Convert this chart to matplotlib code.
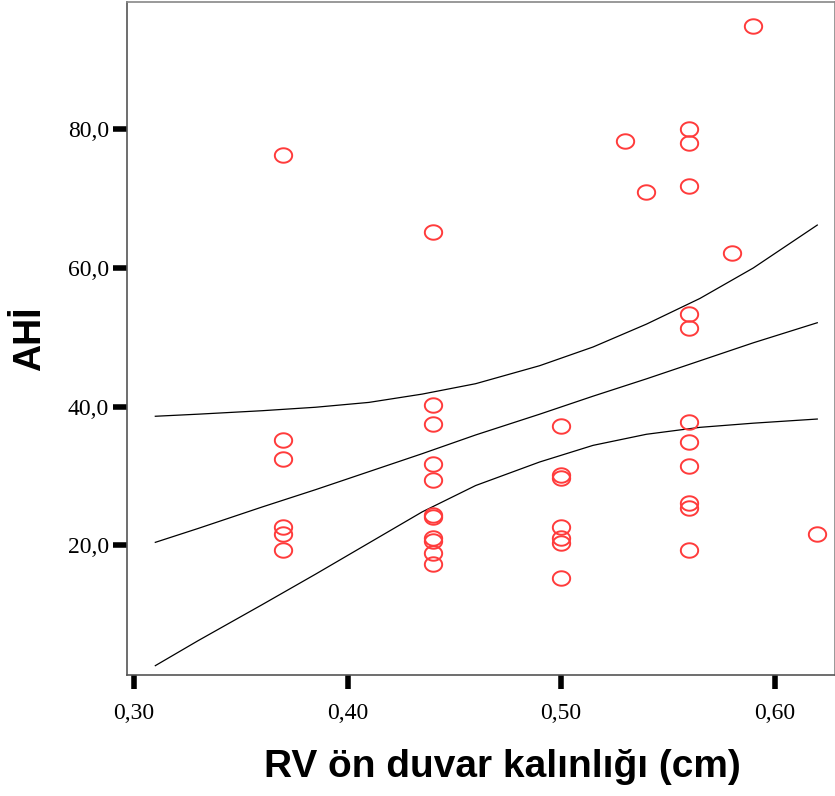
import matplotlib
matplotlib.use("Agg")
import matplotlib.pyplot as plt
import numpy as np
from matplotlib.path import Path

# scatter data: RV anterior wall thickness (cm) vs AHI
rv_x = [0.37, 0.37, 0.37, 0.37, 0.37, 0.37,
        0.44, 0.44, 0.44, 0.44, 0.44, 0.44, 0.44, 0.44, 0.44, 0.44, 0.44,
        0.50, 0.50, 0.50, 0.50, 0.50, 0.50, 0.50,
        0.53, 0.54,
        0.56, 0.56, 0.56, 0.56, 0.56, 0.56, 0.56, 0.56, 0.56, 0.56, 0.56,
        0.58, 0.59, 0.62]
ahi_y = [76.3, 35.2, 32.4, 22.6, 21.6, 19.3,
         65.2, 40.2, 37.5, 31.7, 29.4, 24.3, 24.0, 21.0, 20.6, 18.9, 17.3,
         37.2, 30.1, 29.7, 22.6, 21.0, 20.3, 15.3,
         78.3, 70.9,
         80.0, 78.0, 71.9, 53.4, 51.3, 37.8, 34.9, 31.4, 26.1, 25.4, 19.3,
         62.1, 94.9, 21.6]

# fit line and 95% band
fit_x = [0.31, 0.33, 0.36, 0.385, 0.41, 0.435, 0.46, 0.49, 0.515, 0.54, 0.565, 0.59, 0.62]
fit_upper = [38.6, 38.9, 39.4, 39.9, 40.6, 41.8, 43.3, 45.9, 48.6, 51.9, 55.6, 60.0, 66.2]
fit_mid = [20.4, 22.4, 25.5, 28.0, 30.6, 33.2, 35.9, 38.9, 41.5, 44.0, 46.6, 49.2, 52.1]
fit_lower = [2.6, 6.2, 11.4, 15.8, 20.3, 24.8, 28.6, 32.0, 34.4, 36.0, 37.0, 37.6, 38.2]

xticks = [0.30, 0.40, 0.50, 0.60]
xtick_labels = ["0,30", "0,40", "0,50", "0,60"]
yticks = [20, 40, 60, 80]
ytick_labels = ["20,0", "40,0", "60,0", "80,0"]

# slightly wide open-circle marker like SPSS
t = np.linspace(0, 2 * np.pi, 60)
ellipse = Path(np.column_stack([1.2 * np.cos(t), np.sin(t)]), closed=True)

fig = plt.figure(figsize=(8.35, 7.96), dpi=100)
ax = fig.add_axes([0.152, 0.152, 0.848, 0.8455])

ax.plot(fit_x, fit_upper, color="black", lw=0.9)
ax.plot(fit_x, fit_mid, color="black", lw=0.9)
ax.plot(fit_x, fit_lower, color="black", lw=0.9)
ax.plot(rv_x, ahi_y, linestyle="none", marker=ellipse, markersize=12.5,
        markerfacecolor="none", markeredgecolor="#ff3b3b", markeredgewidth=1.4)

ax.set_xlim(0.2967, 0.6283)
ax.set_ylim(1.25, 98.4)

ax.set_xticks(xticks)
ax.set_xticklabels(xtick_labels, family="Liberation Serif", fontsize=17)
ax.set_yticks(yticks)
ax.set_yticklabels(ytick_labels, family="Liberation Serif", fontsize=17)
ax.tick_params(axis="both", direction="out", length=10, width=4, color="black")
ax.tick_params(axis="y", pad=3)
ax.tick_params(axis="x", pad=10)

for side in ["left", "bottom"]:
    ax.spines[side].set_color("#555555")
    ax.spines[side].set_linewidth(1.2)
for side in ["top", "right"]:
    ax.spines[side].set_color("#888888")
    ax.spines[side].set_linewidth(1.2)

ax.set_xlabel("RV ön duvar kalınlığı (cm)", family="Liberation Sans", fontweight="bold",
              fontsize=28)
ax.xaxis.set_label_coords(0.53, -0.11)
ax.xaxis.label.set_verticalalignment("top")
ax.set_ylabel("AHİ", family="Liberation Sans", fontweight="bold", fontsize=27)
ax.yaxis.set_label_coords(-0.137, 0.5)
ax.yaxis.label.set_verticalalignment("center")

fig.savefig("out.png", dpi=100)
